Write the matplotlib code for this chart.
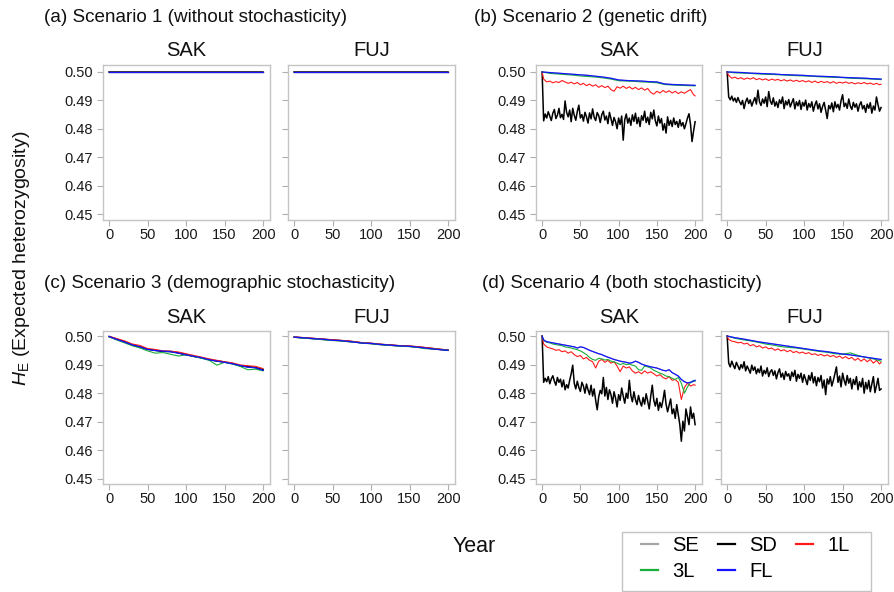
import matplotlib
matplotlib.use("Agg")
import matplotlib.pyplot as plt
from matplotlib.lines import Line2D
from matplotlib.patches import Rectangle

plt.rcParams["font.family"] = ["Liberation Sans", "DejaVu Sans"]
plt.rcParams["mathtext.fontset"] = "custom"
plt.rcParams["mathtext.it"] = "Liberation Sans:italic"
plt.rcParams["mathtext.rm"] = "Liberation Sans"

# year grids (x values)
yr_dense = [0] + list(range(2, 201, 2))
yr_fine = [0] + list(range(2, 199, 4)) + [200]
yr_coarse = list(range(0, 201, 10))
yr_flat = [0, 200]

# ---- scenario 1: no stochasticity, everything stays at 0.5
a_flat = [0.5, 0.5]

# ---- scenario 2: genetic drift
b_sak_sd = [0.5000, 0.4828, 0.4852, 0.4838, 0.4860, 0.4845, 0.4829, 0.4855, 0.4868, 0.4836,
            0.4848, 0.4872, 0.4839, 0.4851, 0.4833, 0.4898, 0.4858, 0.4842, 0.4866, 0.4825,
            0.4872, 0.4848, 0.4830, 0.4861, 0.4883, 0.4838, 0.4850, 0.4827, 0.4858, 0.4842,
            0.4820, 0.4856, 0.4835, 0.4870, 0.4841, 0.4829, 0.4857, 0.4846, 0.4822, 0.4850,
            0.4862, 0.4831, 0.4845, 0.4818, 0.4858, 0.4836, 0.4812, 0.4840, 0.4825, 0.4800,
            0.4838, 0.4815, 0.4845, 0.4760, 0.4832, 0.4852, 0.4820, 0.4838, 0.4812, 0.4849,
            0.4826, 0.4855, 0.4818, 0.4840, 0.4808, 0.4846, 0.4830, 0.4862, 0.4822, 0.4841,
            0.4815, 0.4858, 0.4835, 0.4866, 0.4828, 0.4810, 0.4845, 0.4820, 0.4836, 0.4795,
            0.4818, 0.4785, 0.4842, 0.4812, 0.4830, 0.4808, 0.4838, 0.4815, 0.4826, 0.4805,
            0.4832, 0.4810, 0.4822, 0.4800, 0.4818, 0.4838, 0.4853, 0.4815, 0.4755, 0.4792,
            0.4825]
b_sak_1l = [0.5000, 0.4975, 0.4965, 0.4968, 0.4962, 0.4966, 0.4963, 0.4970, 0.4965, 0.4960, 0.4964, 0.4958, 0.4963,
            0.4955, 0.4960, 0.4952, 0.4957, 0.4950, 0.4955, 0.4946, 0.4952, 0.4945, 0.4950, 0.4938, 0.4932, 0.4948,
            0.4943, 0.4950, 0.4942, 0.4948, 0.4940, 0.4946, 0.4938, 0.4944, 0.4936, 0.4942, 0.4928, 0.4922, 0.4932,
            0.4926, 0.4935, 0.4928, 0.4934, 0.4926, 0.4932, 0.4924, 0.4930, 0.4925, 0.4932, 0.4938, 0.4920, 0.4916]
b_sak_3l = [0.5000, 0.4995, 0.4993, 0.4991, 0.4989, 0.4986, 0.4984, 0.4982, 0.4979, 0.4975, 0.4969,
            0.4968, 0.4967, 0.4965, 0.4964, 0.4962, 0.4956, 0.4954, 0.4953, 0.4952, 0.4951]
b_sak_fl = [0.5000, 0.4998, 0.4996, 0.4994, 0.4992, 0.4990, 0.4988, 0.4985, 0.4982, 0.4978, 0.4972,
            0.4970, 0.4969, 0.4968, 0.4966, 0.4965, 0.4958, 0.4956, 0.4955, 0.4954, 0.4953]

b_fuj_sd = [0.5000, 0.4912, 0.4902, 0.4915, 0.4898, 0.4908, 0.4893, 0.4910, 0.4896, 0.4885,
            0.4900, 0.4871, 0.4895, 0.4908, 0.4889, 0.4902, 0.4880, 0.4896, 0.4910, 0.4887,
            0.4936, 0.4895, 0.4882, 0.4905, 0.4890, 0.4912, 0.4878, 0.4931, 0.4898, 0.4886,
            0.4909, 0.4880, 0.4895, 0.4875, 0.4902, 0.4889, 0.4912, 0.4871, 0.4898, 0.4884,
            0.4903, 0.4877, 0.4892, 0.4906, 0.4870, 0.4895, 0.4881, 0.4900, 0.4868, 0.4893,
            0.4880, 0.4901, 0.4866, 0.4889, 0.4876, 0.4895, 0.4862, 0.4884, 0.4898, 0.4870,
            0.4888, 0.4858, 0.4879, 0.4893, 0.4865, 0.4836, 0.4882, 0.4870, 0.4891, 0.4860,
            0.4895, 0.4874, 0.4886, 0.4866, 0.4899, 0.4920, 0.4878, 0.4890, 0.4872, 0.4905,
            0.4880, 0.4868, 0.4893, 0.4876, 0.4888, 0.4862, 0.4884, 0.4895, 0.4870, 0.4882,
            0.4858, 0.4887, 0.4872, 0.4892, 0.4855, 0.4880, 0.4866, 0.4912, 0.4885, 0.4862,
            0.4875]
b_fuj_1l = [0.5000, 0.4988, 0.4978, 0.4982, 0.4976, 0.4980, 0.4974, 0.4979, 0.4975, 0.4980, 0.4973, 0.4977, 0.4972,
            0.4976, 0.4970, 0.4975, 0.4971, 0.4974, 0.4969, 0.4973, 0.4968, 0.4972, 0.4967, 0.4971, 0.4966, 0.4970,
            0.4965, 0.4969, 0.4963, 0.4968, 0.4962, 0.4967, 0.4963, 0.4966, 0.4961, 0.4966, 0.4960, 0.4964, 0.4961,
            0.4965, 0.4960, 0.4963, 0.4958, 0.4962, 0.4959, 0.4963, 0.4958, 0.4961, 0.4956, 0.4960, 0.4955, 0.4957]
b_fuj_3l = [0.5000, 0.4997, 0.4996, 0.4995, 0.4993, 0.4992, 0.4991, 0.4990, 0.4988, 0.4987, 0.4986,
            0.4985, 0.4983, 0.4982, 0.4981, 0.4980, 0.4978, 0.4977, 0.4976, 0.4975, 0.4973]
b_fuj_fl = [0.5000, 0.4999, 0.4998, 0.4996, 0.4995, 0.4994, 0.4993, 0.4991, 0.4990, 0.4989, 0.4988,
            0.4986, 0.4985, 0.4984, 0.4983, 0.4981, 0.4980, 0.4979, 0.4978, 0.4976, 0.4975]

# ---- scenario 3: demographic stochasticity
c_sak_sd = [0.4998, 0.4989, 0.4980, 0.4968, 0.4962, 0.4954, 0.4950, 0.4946, 0.4946, 0.4941, 0.4935,
            0.4929, 0.4924, 0.4917, 0.4913, 0.4909, 0.4904, 0.4896, 0.4893, 0.4890, 0.4882]
c_sak_1l = [0.4999, 0.4991, 0.4983, 0.4972, 0.4967, 0.4956, 0.4953, 0.4948, 0.4947, 0.4944, 0.4938,
            0.4932, 0.4926, 0.4920, 0.4915, 0.4910, 0.4906, 0.4899, 0.4896, 0.4894, 0.4886]
c_sak_3l = [0.4997, 0.4986, 0.4976, 0.4966, 0.4958, 0.4948, 0.4940, 0.4942, 0.4936, 0.4930, 0.4934,
            0.4928, 0.4922, 0.4915, 0.4898, 0.4908, 0.4902, 0.4894, 0.4882, 0.4884, 0.4878]
c_sak_fl = [0.4998, 0.4988, 0.4979, 0.4969, 0.4962, 0.4953, 0.4949, 0.4947, 0.4945, 0.4940, 0.4934,
            0.4929, 0.4924, 0.4917, 0.4912, 0.4908, 0.4903, 0.4897, 0.4891, 0.4889, 0.4880]

c_fuj_sd = [0.4996, 0.4994, 0.4992, 0.4990, 0.4988, 0.4986, 0.4984, 0.4982, 0.4979, 0.4975, 0.4974,
            0.4971, 0.4969, 0.4967, 0.4965, 0.4964, 0.4962, 0.4959, 0.4956, 0.4953, 0.4950]
c_fuj_1l = [0.4997, 0.4995, 0.4993, 0.4991, 0.4989, 0.4987, 0.4985, 0.4983, 0.4980, 0.4976, 0.4975,
            0.4972, 0.4970, 0.4968, 0.4966, 0.4965, 0.4963, 0.4960, 0.4957, 0.4954, 0.4951]
c_fuj_3l = [0.4996, 0.4993, 0.4991, 0.4989, 0.4986, 0.4984, 0.4983, 0.4980, 0.4978, 0.4975, 0.4973,
            0.4970, 0.4968, 0.4966, 0.4964, 0.4963, 0.4960, 0.4956, 0.4954, 0.4953, 0.4950]
c_fuj_fl = [0.4996, 0.4994, 0.4992, 0.4990, 0.4988, 0.4985, 0.4984, 0.4981, 0.4978, 0.4975, 0.4974,
            0.4971, 0.4969, 0.4967, 0.4965, 0.4964, 0.4961, 0.4958, 0.4955, 0.4952, 0.4950]

# ---- scenario 4: both
d_sak_sd = [0.5000, 0.4838, 0.4852, 0.4840, 0.4858, 0.4833, 0.4850, 0.4861, 0.4842, 0.4828,
            0.4855, 0.4838, 0.4849, 0.4822, 0.4846, 0.4812, 0.4830, 0.4818, 0.4845, 0.4868,
            0.4898, 0.4835, 0.4815, 0.4842, 0.4820, 0.4806, 0.4838, 0.4825, 0.4800, 0.4832,
            0.4812, 0.4795, 0.4828, 0.4790, 0.4815, 0.4775, 0.4742, 0.4788, 0.4810, 0.4798,
            0.4855, 0.4790, 0.4820, 0.4778, 0.4812, 0.4795, 0.4765, 0.4805, 0.4783, 0.4752,
            0.4795, 0.4775, 0.4818, 0.4790, 0.4765, 0.4800, 0.4782, 0.4845, 0.4792, 0.4770,
            0.4805, 0.4778, 0.4760, 0.4792, 0.4770, 0.4755, 0.4785, 0.4762, 0.4798, 0.4772,
            0.4745, 0.4790, 0.4828, 0.4775, 0.4755, 0.4782, 0.4740, 0.4768, 0.4750, 0.4776,
            0.4810, 0.4762, 0.4735, 0.4758, 0.4780, 0.4728, 0.4745, 0.4712, 0.4760, 0.4725,
            0.4690, 0.4632, 0.4702, 0.4668, 0.4745, 0.4718, 0.4690, 0.4752, 0.4712, 0.4730,
            0.4690]
d_sak_1l = [0.5000, 0.4972, 0.4962, 0.4958, 0.4955, 0.4950, 0.4952, 0.4945, 0.4948, 0.4940, 0.4945, 0.4935, 0.4928,
            0.4932, 0.4920, 0.4925, 0.4915, 0.4910, 0.4888, 0.4912, 0.4918, 0.4908, 0.4915, 0.4905, 0.4910, 0.4895,
            0.4875, 0.4895, 0.4888, 0.4892, 0.4878, 0.4870, 0.4875, 0.4868, 0.4878, 0.4870, 0.4875, 0.4868, 0.4860,
            0.4865, 0.4855, 0.4850, 0.4858, 0.4845, 0.4848, 0.4838, 0.4778, 0.4820, 0.4835, 0.4825, 0.4830, 0.4828]
d_sak_3l = [0.5000, 0.4985, 0.4978, 0.4976, 0.4972, 0.4970, 0.4968, 0.4966, 0.4962, 0.4960, 0.4958, 0.4955, 0.4952,
            0.4948, 0.4942, 0.4935, 0.4925, 0.4918, 0.4915, 0.4922, 0.4920, 0.4916, 0.4918, 0.4912, 0.4910, 0.4905,
            0.4900, 0.4904, 0.4900, 0.4902, 0.4898, 0.4895, 0.4882, 0.4880, 0.4895, 0.4892, 0.4888, 0.4880, 0.4875,
            0.4870, 0.4866, 0.4860, 0.4858, 0.4852, 0.4848, 0.4855, 0.4835, 0.4800, 0.4822, 0.4838, 0.4845, 0.4842]
d_sak_fl = [0.5000, 0.4986, 0.4980, 0.4978, 0.4976, 0.4974, 0.4972, 0.4970, 0.4968, 0.4966, 0.4964, 0.4962, 0.4958,
            0.4962, 0.4960, 0.4955, 0.4950, 0.4946, 0.4942, 0.4938, 0.4935, 0.4930, 0.4926, 0.4922, 0.4918, 0.4915,
            0.4912, 0.4910, 0.4908, 0.4905, 0.4907, 0.4912, 0.4908, 0.4902, 0.4898, 0.4895, 0.4892, 0.4890, 0.4888,
            0.4884, 0.4880, 0.4878, 0.4882, 0.4872, 0.4866, 0.4860, 0.4848, 0.4840, 0.4836, 0.4838, 0.4842, 0.4845]

d_fuj_sd = [0.5000, 0.4905, 0.4892, 0.4912, 0.4898, 0.4886, 0.4908, 0.4895, 0.4882, 0.4900,
            0.4888, 0.4910, 0.4878, 0.4895, 0.4883, 0.4870, 0.4898, 0.4880, 0.4892, 0.4868,
            0.4885, 0.4872, 0.4895, 0.4860, 0.4880, 0.4868, 0.4889, 0.4858, 0.4875, 0.4882,
            0.4862, 0.4878, 0.4850, 0.4872, 0.4885, 0.4856, 0.4870, 0.4848, 0.4876, 0.4860,
            0.4868, 0.4845, 0.4874, 0.4858, 0.4880, 0.4842, 0.4866, 0.4852, 0.4870, 0.4838,
            0.4865, 0.4848, 0.4830, 0.4862, 0.4845, 0.4872, 0.4836, 0.4858, 0.4826, 0.4855,
            0.4840, 0.4862, 0.4818, 0.4846, 0.4795, 0.4850, 0.4832, 0.4858, 0.4825, 0.4845,
            0.4868, 0.4892, 0.4838, 0.4860, 0.4822, 0.4870, 0.4845, 0.4828, 0.4862, 0.4835,
            0.4852, 0.4815, 0.4848, 0.4830, 0.4858, 0.4812, 0.4840, 0.4822, 0.4852, 0.4800,
            0.4838, 0.4815, 0.4845, 0.4805, 0.4832, 0.4858, 0.4802, 0.4826, 0.4852, 0.4810,
            0.4815]
d_fuj_1l = [0.5000, 0.4988, 0.4982, 0.4980, 0.4976, 0.4978, 0.4972, 0.4975, 0.4966, 0.4970, 0.4962, 0.4966, 0.4958,
            0.4962, 0.4955, 0.4958, 0.4950, 0.4955, 0.4948, 0.4952, 0.4945, 0.4950, 0.4942, 0.4946, 0.4940, 0.4944,
            0.4938, 0.4942, 0.4935, 0.4938, 0.4932, 0.4936, 0.4930, 0.4934, 0.4928, 0.4932, 0.4925, 0.4930, 0.4922,
            0.4928, 0.4920, 0.4925, 0.4915, 0.4922, 0.4912, 0.4920, 0.4910, 0.4918, 0.4905, 0.4915, 0.4902, 0.4908]
d_fuj_3l = [0.5000, 0.4992, 0.4987, 0.4983, 0.4978, 0.4972, 0.4968, 0.4963, 0.4960, 0.4958, 0.4954,
            0.4950, 0.4946, 0.4943, 0.4938, 0.4936, 0.4941, 0.4932, 0.4925, 0.4920, 0.4912]
d_fuj_fl = [0.5000, 0.4994, 0.4990, 0.4985, 0.4980, 0.4976, 0.4972, 0.4968, 0.4964, 0.4960, 0.4956,
            0.4952, 0.4948, 0.4945, 0.4941, 0.4937, 0.4934, 0.4930, 0.4926, 0.4922, 0.4918]

labels = ["SE", "SD", "1L", "3L", "FL"]
colors = {"SE": "#a6a6a6", "SD": "#000000", "1L": "#ff1a1a", "3L": "#19ad3a", "FL": "#1414ff"}
widths = {"SE": 0.8, "SD": 1.1, "1L": 0.8, "3L": 0.8, "FL": 0.9}

# series per panel: label -> (years, values); SE sits under FL
panels = [
    {k: (yr_flat, a_flat) for k in labels},
    {k: (yr_flat, a_flat) for k in labels},
    {"SE": (yr_coarse, b_sak_fl), "SD": (yr_dense, b_sak_sd), "1L": (yr_fine, b_sak_1l),
     "3L": (yr_coarse, b_sak_3l), "FL": (yr_coarse, b_sak_fl)},
    {"SE": (yr_coarse, b_fuj_fl), "SD": (yr_dense, b_fuj_sd), "1L": (yr_fine, b_fuj_1l),
     "3L": (yr_coarse, b_fuj_3l), "FL": (yr_coarse, b_fuj_fl)},
    {"SE": (yr_coarse, c_sak_fl), "SD": (yr_coarse, c_sak_sd), "1L": (yr_coarse, c_sak_1l),
     "3L": (yr_coarse, c_sak_3l), "FL": (yr_coarse, c_sak_fl)},
    {"SE": (yr_coarse, c_fuj_fl), "SD": (yr_coarse, c_fuj_sd), "1L": (yr_coarse, c_fuj_1l),
     "3L": (yr_coarse, c_fuj_3l), "FL": (yr_coarse, c_fuj_fl)},
    {"SE": (yr_fine, d_sak_fl), "SD": (yr_dense, d_sak_sd), "1L": (yr_fine, d_sak_1l),
     "3L": (yr_fine, d_sak_3l), "FL": (yr_fine, d_sak_fl)},
    {"SE": (yr_coarse, d_fuj_fl), "SD": (yr_dense, d_fuj_sd), "1L": (yr_fine, d_fuj_1l),
     "3L": (yr_coarse, d_fuj_3l), "FL": (yr_coarse, d_fuj_fl)},
]

W, H = 894, 592
fig = plt.figure(figsize=(W / 100, H / 100), dpi=100)

cols = [(103, 270), (288, 455), (536, 702), (721, 888)]
rows = [(65, 220, (0.44789, 0.50246)), (331, 484, (0.44825, 0.50175))]
boxes = [(cols[0], rows[0]), (cols[1], rows[0]), (cols[2], rows[0]), (cols[3], rows[0]),
         (cols[0], rows[1]), (cols[1], rows[1]), (cols[2], rows[1]), (cols[3], rows[1])]
sites = ["SAK", "FUJ"] * 4

for i, ((x0, x1), (y0, y1, ylim)) in enumerate(boxes):
    ax = fig.add_axes([x0 / W, 1 - y1 / H, (x1 - x0) / W, (y1 - y0) / H])
    for lab in labels:
        xs, ys = panels[i][lab]
        ax.plot(xs, ys, color=colors[lab], lw=widths[lab])
    ax.set_xlim(-8, 209)
    ax.set_ylim(*ylim)
    ax.set_xticks([0, 50, 100, 150, 200])
    ax.set_yticks([0.45, 0.46, 0.47, 0.48, 0.49, 0.50])
    ax.set_yticklabels(["0.45", "0.46", "0.47", "0.48", "0.49", "0.50"])
    for s in ax.spines.values():
        s.set_color("#c4c4c4")
        s.set_linewidth(1.0)
    ax.tick_params(color="#b0b0b0", length=4, width=0.8, labelsize=10.5,
                   labelcolor="#1a1a1a")
    ax.tick_params(axis="x", pad=2)
    ax.tick_params(axis="y", pad=3)
    if i % 2 == 1:
        ax.tick_params(labelleft=False)
    fig.text((x0 + x1) / 2 / W, 1 - (y0 - 14) / H, sites[i], fontsize=14.5,
             ha="center", va="center", color="#111111")

titles = [("(a) Scenario 1 (without stochasticity)", 44, 17),
          ("(b) Scenario 2 (genetic drift)", 474, 17),
          ("(c) Scenario 3 (demographic stochasticity)", 44, 284),
          ("(d) Scenario 4 (both stochasticity)", 482, 283)]
for txt, x, y in titles:
    fig.text(x / W, 1 - y / H, txt, fontsize=13.6, ha="left", va="center", color="#111111")

fig.text(22 / W, 1 - 258 / H, r"$H_\mathrm{E}$ (Expected heterozygosity)", rotation=90,
         fontsize=14, ha="center", va="center", color="#111111")
fig.text(453 / W, 1 - 547 / H, "Year", fontsize=15.5, ha="left", va="center", color="#111111")

# legend: frameless entries inside a separately drawn grey box
fig.patches.append(Rectangle((622 / W, 1 - 591 / H), 249 / W, 59 / H, transform=fig.transFigure,
                             fill=False, edgecolor="#c4c4c4", lw=1.0))
handles = {lab: Line2D([], [], color=colors[lab], lw=1.6) for lab in labels}
order = ["SE", "3L", "SD", "FL", "1L"]
fig.legend([handles[k] for k in order], order, ncol=3, loc="upper left",
           bbox_to_anchor=(641 / W, 1 - 536 / H), fontsize=14.5, frameon=False,
           handlelength=0.85, handletextpad=0.7, columnspacing=0.95,
           labelspacing=0.35, borderpad=0, borderaxespad=0)

fig.savefig("out.png", dpi=100)
